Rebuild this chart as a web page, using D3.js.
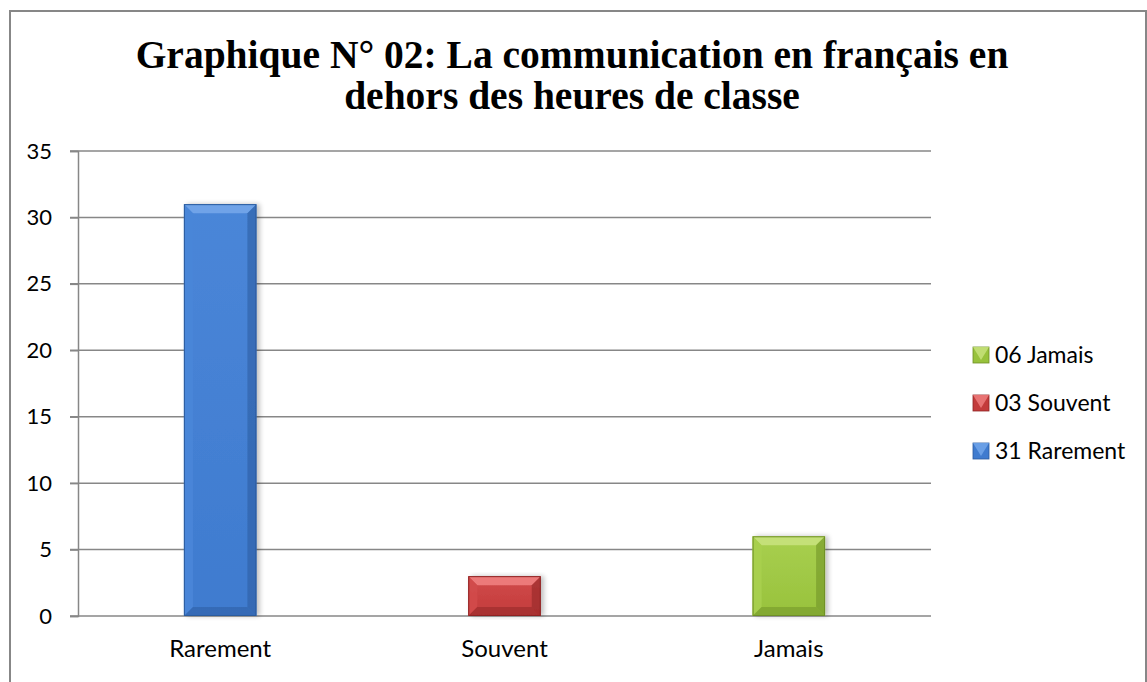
<!DOCTYPE html>
<html>
<head>
<meta charset="utf-8">
<script src="https://cdn.jsdelivr.net/npm/d3@7"></script>
<style>
  body { margin: 0; background: #fff; }
  svg { display: block; }
</style>
</head>
<body>
<div id="chart"></div>
<script>
// data
const categories = ["Rarement", "Souvent", "Jamais"];
const values = [31, 3, 6];
const legendLabels = ["06 Jamais", "03 Souvent", "31 Rarement"];
const legendCats = ["Jamais", "Souvent", "Rarement"];
const yTicks = [0, 5, 10, 15, 20, 25, 30, 35];
const titleLines = ["Graphique N° 02: La communication en français en", "dehors des heures de classe"];

const width = 1147;
const height = 682;

// colours per category
const palette = {
  Rarement: { light: "#6fa3e8", face: "#3f7bcf", mid: "#4a86d8", dark: "#2b5b9e" },
  Souvent: { light: "#ec7a7a", face: "#c33b3b", mid: "#d14b4b", dark: "#8e2424" },
  Jamais: { light: "#c4e078", face: "#98c23c", mid: "#a8cf4f", dark: "#6e8f25" },
};

const font = "Lato, 'Noto Sans', sans-serif";

const svg = d3
  .select("#chart")
  .append("svg")
  .attr("width", width)
  .attr("height", height);

// outer chart border
svg
  .append("rect")
  .attr("x", 10)
  .attr("y", 11)
  .attr("width", 1136)
  .attr("height", 700)
  .attr("fill", "none")
  .attr("stroke", "#878787")
  .attr("stroke-width", 2);

// title
svg
  .append("g")
  .selectAll("text")
  .data(titleLines)
  .join("text")
  .attr("x", 572)
  .attr("y", (d, i) => 68 + i * 41)
  .attr("text-anchor", "middle")
  .attr("font-family", "'Liberation Serif', 'Times New Roman', serif")
  .attr("font-weight", "bold")
  .attr("font-size", 39.5)
  .attr("fill", "#000")
  .text((d) => d);

const x = d3.scaleBand().domain(categories).range([78, 931]).padding(0);
const y = d3.scaleLinear().domain([0, 35]).range([616, 151]);

// gridlines
svg
  .append("g")
  .selectAll("line")
  .data(yTicks.filter((d) => d > 0))
  .join("line")
  .attr("x1", 70)
  .attr("x2", 931)
  .attr("y1", (d) => y(d))
  .attr("y2", (d) => y(d))
  .attr("stroke", "#878787")
  .attr("stroke-width", 1.5);

// y axis
const yAxis = svg
  .append("g")
  .attr("transform", "translate(78,0)")
  .call(d3.axisLeft(y).tickValues(yTicks).tickSize(8).tickPadding(18));
yAxis.select(".domain").attr("stroke", "#878787").attr("stroke-width", 1.5);
yAxis.selectAll(".tick line").attr("stroke", "#878787").attr("stroke-width", 1.5);
yAxis
  .selectAll(".tick text")
  .attr("font-family", font)
  .attr("font-size", 22)
  .attr("fill", "#000");

// baseline
svg
  .append("line")
  .attr("x1", 70)
  .attr("x2", 931)
  .attr("y1", y(0))
  .attr("y2", y(0))
  .attr("stroke", "#878787")
  .attr("stroke-width", 1.5);

// category labels
svg
  .append("g")
  .selectAll("text")
  .data(categories)
  .join("text")
  .attr("x", (d) => x(d) + x.bandwidth() / 2)
  .attr("y", 657)
  .attr("text-anchor", "middle")
  .attr("font-family", font)
  .attr("font-size", 24)
  .attr("fill", "#000")
  .text((d) => d);

// gradients for the bar faces
const defs = svg.append("defs");
categories.forEach((c) => {
  const p = palette[c];
  const g = defs
    .append("linearGradient")
    .attr("id", "face-" + c)
    .attr("x1", 0)
    .attr("y1", 0)
    .attr("x2", 0)
    .attr("y2", 1);
  g.append("stop").attr("offset", "0%").attr("stop-color", p.mid);
  g.append("stop").attr("offset", "100%").attr("stop-color", p.face);
});

const shadow = defs.append("filter").attr("id", "shadow").attr("x", "-20%").attr("width", "150%");
shadow.append("feGaussianBlur").attr("in", "SourceAlpha").attr("stdDeviation", 2.5);
shadow.append("feOffset").attr("dx", 3).attr("dy", 0).attr("result", "b");
shadow.append("feComponentTransfer").append("feFuncA").attr("type", "linear").attr("slope", 0.25);
const merge = shadow.append("feMerge");
merge.append("feMergeNode");
merge.append("feMergeNode").attr("in", "SourceGraphic");

// bevelled bars
const barW = x.bandwidth() * 0.255;
const bars = svg
  .append("g")
  .selectAll("g")
  .data(categories.map((c, i) => ({ cat: c, value: values[i] })))
  .join("g")
  .attr("filter", "url(#shadow)");

bars.each(function (d) {
  const p = palette[d.cat];
  const x0 = x(d.cat) + (x.bandwidth() - barW) / 2;
  const y0 = y(d.value);
  const w = barW;
  const h = y(0) - y0;
  const b = Math.min(9, h / 3);
  const g = d3.select(this);
  g.append("rect")
    .attr("x", x0)
    .attr("y", y0)
    .attr("width", w)
    .attr("height", h)
    .attr("fill", `url(#face-${d.cat})`);
  const poly = (pts, fill, op) =>
    g.append("polygon")
      .attr("points", pts.map((q) => q.join(",")).join(" "))
      .attr("fill", fill)
      .attr("opacity", op);
  // top bevel
  poly([[x0, y0], [x0 + w, y0], [x0 + w - b, y0 + b], [x0 + b, y0 + b]], p.light, 1);
  // left bevel
  poly([[x0, y0], [x0 + b, y0 + b], [x0 + b, y0 + h - b], [x0, y0 + h]], p.mid, 0.9);
  // right bevel
  poly([[x0 + w, y0], [x0 + w - b, y0 + b], [x0 + w - b, y0 + h - b], [x0 + w, y0 + h]], p.dark, 0.55);
  // bottom bevel
  poly([[x0, y0 + h], [x0 + b, y0 + h - b], [x0 + w - b, y0 + h - b], [x0 + w, y0 + h]], p.dark, 0.5);
  g.append("rect")
    .attr("x", x0 + 0.5)
    .attr("y", y0 + 0.5)
    .attr("width", w - 1)
    .attr("height", h - 1)
    .attr("fill", "none")
    .attr("stroke", p.dark)
    .attr("stroke-width", 1);
});

// legend
const legend = svg
  .append("g")
  .selectAll("g")
  .data(legendLabels.map((t, i) => ({ label: t, cat: legendCats[i] })))
  .join("g")
  .attr("transform", (d, i) => `translate(973,${355 + i * 48})`);

legend.each(function (d) {
  const p = palette[d.cat];
  const g = d3.select(this);
  const s = 16;
  g.append("rect")
    .attr("x", 0)
    .attr("y", -s / 2)
    .attr("width", s)
    .attr("height", s)
    .attr("fill", p.face)
    .attr("stroke", p.dark)
    .attr("stroke-width", 0.8);
  g.append("polygon")
    .attr("points", `0,${-s / 2} ${s},${-s / 2} ${s / 2},${s / 2 - 3}`)
    .attr("fill", p.light)
    .attr("opacity", 0.9);
});

legend
  .append("text")
  .attr("x", 22)
  .attr("y", 0)
  .attr("dy", "0.35em")
  .attr("font-family", font)
  .attr("font-size", 23)
  .attr("fill", "#000")
  .text((d) => d.label);
</script>
</body>
</html>
